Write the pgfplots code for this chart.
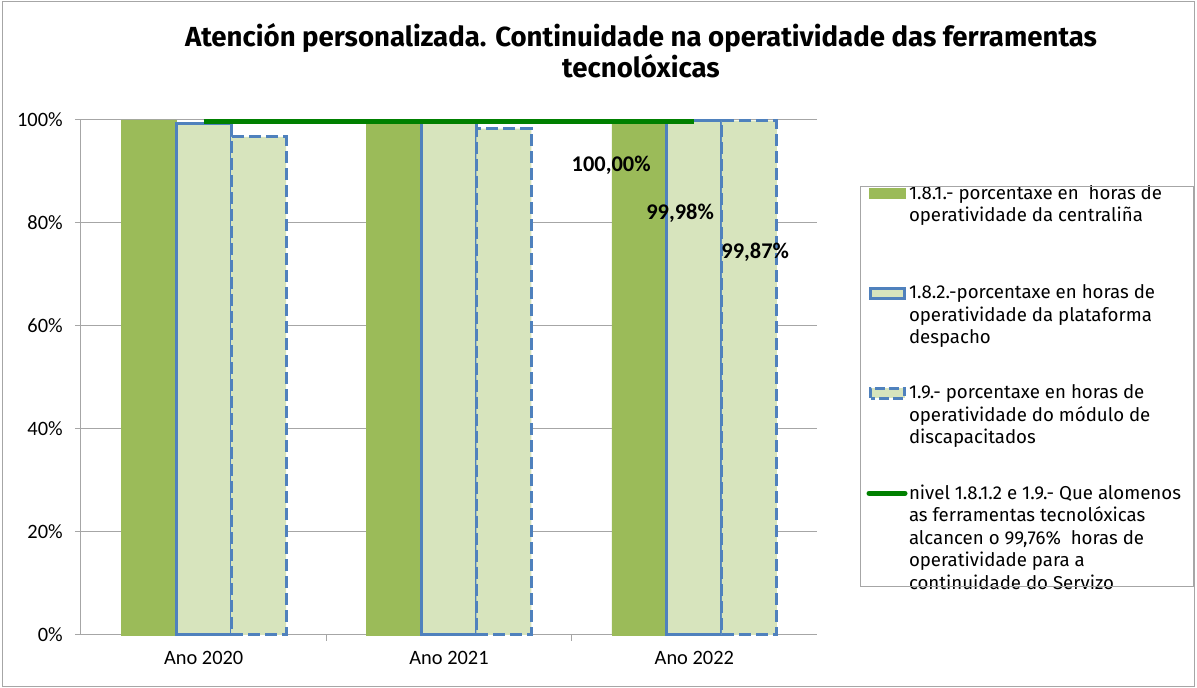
\documentclass[border=0pt]{standalone}
\usepackage{pgfplots}
\pgfplotsset{compat=1.18}
\usepackage{fontspec}
\setmainfont{Fira Sans}
\newfontfamily\tickfont{Carlito}
\newfontfamily\legfont{Fira Sans}
\newlength\px \setlength\px{0.75pt}
\definecolor{barA}{HTML}{9BBB59}
\definecolor{barB}{HTML}{D7E4BD}
\definecolor{edge}{HTML}{4F81BD}
\definecolor{goal}{HTML}{008000}
\definecolor{gridc}{HTML}{A6A6A6}
\newcommand\lt[1]{\legfont\fontsize{14}{16.5}\selectfont\strut #1}
\newcommand\ltf[2]{\legfont\fontsize{14}{16.5}\selectfont\rule{0pt}{#1}\strut #2}
\newcommand\more[1]{\addlegendimage{empty legend}\addlegendentry{#1}}
\begin{document}
\begin{tikzpicture}
\path[use as bounding box] (-81\px,-53\px) rectangle (1116\px,635\px);
\draw[gridc, line width=1\px] (-78.5\px,-51.5\px) rectangle (1113.5\px,633.5\px);
\begin{axis}[
  at={(0,0)}, anchor=south west,
  scale only axis, width=736\px, height=515\px,
  xmin=-0.5, xmax=2.5, ymin=0, ymax=100,
  ybar, bar width=0.224,
  axis x line*=bottom, axis y line*=left,
  axis line style={gridc, line width=1\px},
  tick style={gridc, line width=1\px},
  tick align=outside, major tick length=6\px,
  ytick={0,20,40,60,80,100},
  yticklabels={0\%,20\%,40\%,60\%,80\%,100\%},
  yticklabel style={inner sep=0pt, xshift=-12\px},
  ymajorgrids, grid style={gridc, line width=1\px},
  xtick={0.5,1.5}, xticklabels={},
  extra x ticks={0,1,2},
  extra x tick labels={Ano 2020,Ano 2021,Ano 2022},
  extra x tick style={major tick length=0pt, grid=none, xticklabel style={inner sep=0pt, yshift=-16\px}},
  tick label style={font=\tickfont\fontsize{15.3}{18}\selectfont},
  clip=false,
  legend cell align=left,
  legend style={at={(axis description cs:1.06726,0.8765)}, anchor=north west,
    draw=none, fill=none, inner sep=0pt, outer sep=0pt,
    nodes={inner sep=0pt, anchor=base west},
    column sep=0pt, row sep=5.2\px,
    /tikz/every odd column/.append style={column sep=1.5\px},
    /tikz/every even column/.append style={column sep=0pt}},
]
\addplot[fill=barA, draw=barA, bar shift=-0.224,
  legend image code/.code={\fill[barA] (0pt,1\px) rectangle (36\px,11\px);}]
  coordinates {(0,100) (1,100) (2,100)};
\addlegendentry{\lt{1.8.1.- porcentaxe en~ horas de}}
\more{\lt{operatividade da centraliña}}
\addplot[fill=barB, draw=edge, line width=3\px, bar shift=0,
  legend image code/.code={\draw[fill=barB, draw=edge, line width=3\px] (1.5\px,0.5\px) rectangle (35.5\px,10.5\px);}]
  coordinates {(0,99.4) (1,99.9) (2,99.98)};
\addlegendentry{\ltf{69.8\px}{1.8.2.-porcentaxe en horas de}}
\more{\lt{operatividade da plataforma}}
\more{\lt{despacho}}
\addplot[fill=barB, draw=edge, line width=3\px, dash pattern=on 12\px off 5\px, bar shift=0.224,
  legend image code/.code={\draw[fill=barB, draw=edge, line width=3\px, dash pattern=on 10\px off 4\px] (1.5\px,0.5\px) rectangle (35.5\px,10.5\px);}]
  coordinates {(0,96.7) (1,98.3) (2,99.87)};
\addlegendentry{\ltf{47.5\px}{1.9.- porcentaxe en horas de}}
\more{\lt{operatividade do módulo de}}
\more{\lt{discapacitados}}
\addplot[sharp plot, goal, line width=5\px, mark=none,
  legend image code/.code={\draw[goal, line width=5\px, line cap=round] (0pt,6\px) -- (36\px,6\px);}]
  coordinates {(0,99.76) (2,99.76)};
\addlegendentry{\ltf{48.3\px}{nivel 1.8.1.2 e 1.9.- Que alomenos}}
\more{\lt{as ferramentas tecnolóxicas}}
\more{\lt{alcancen o 99,76\%~ horas de}}
\more{\lt{operatividade para a}}
\more{\lt{continuidade do Servizo}}
\node[font=\tickfont\bfseries\fontsize{16.8}{18}\selectfont] at (axis cs:1.661,91.26) {100,00\%};
\node[font=\tickfont\bfseries\fontsize{16.8}{18}\selectfont] at (axis cs:1.942,81.9) {99,98\%};
\node[font=\tickfont\bfseries\fontsize{16.8}{18}\selectfont] at (axis cs:2.248,74.4) {99,87\%};
\end{axis}
\draw[gridc, line width=1\px] (779\px,448\px) rectangle (1112\px,48\px);
\node[anchor=base, font=\bfseries\fontsize{20.7}{24}\selectfont] at (560\px,588\px) {Atención personalizada. Continuidade na operatividade das ferramentas};
\node[anchor=base, font=\bfseries\fontsize{20.7}{24}\selectfont] at (560\px,557\px) {tecnolóxicas};
\end{tikzpicture}
\end{document}
